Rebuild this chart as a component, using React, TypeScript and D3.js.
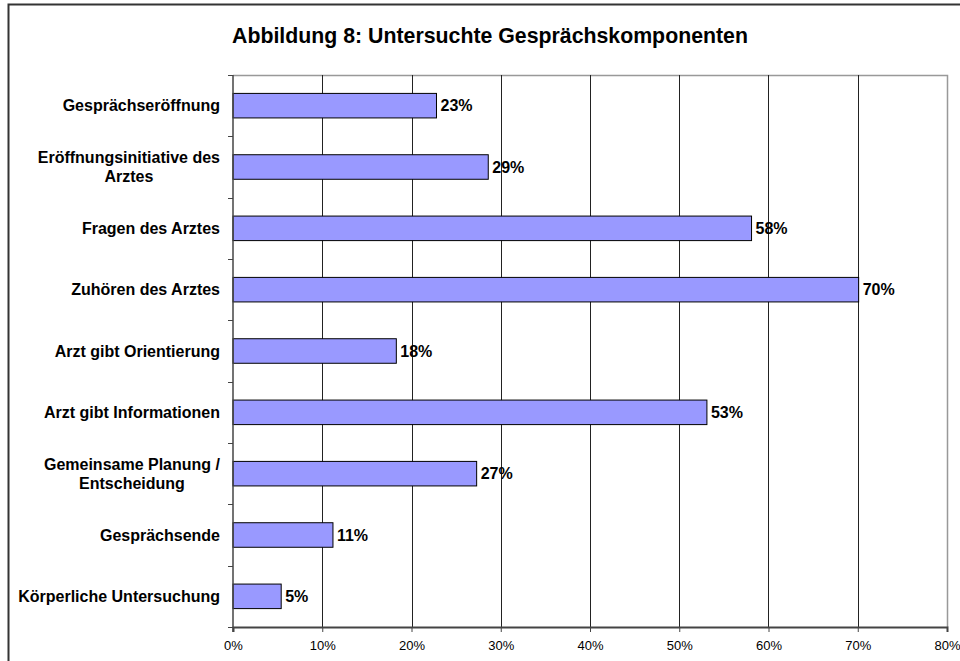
import React, { useRef, useEffect } from 'react';
import * as d3 from 'd3';

// Daten aus der Abbildung
const categories: string[][] = [
    ['Gesprächseröffnung'],
    ['Eröffnungsinitiative des', 'Arztes'],
    ['Fragen des Arztes'],
    ['Zuhören des Arztes'],
    ['Arzt gibt Orientierung'],
    ['Arzt gibt Informationen'],
    ['Gemeinsame Planung /', 'Entscheidung'],
    ['Gesprächsende'],
    ['Körperliche Untersuchung'],
];
const values = [0.228, 0.286, 0.581, 0.701, 0.183, 0.531, 0.273, 0.112, 0.054];
const valueLabels = ['23%', '29%', '58%', '70%', '18%', '53%', '27%', '11%', '5%'];
const xTicks = [0, 0.1, 0.2, 0.3, 0.4, 0.5, 0.6, 0.7, 0.8];
const title = 'Abbildung 8: Untersuchte Gesprächskomponenten';

const W = 960;
const H = 661;
const plot = { left: 233, right: 947, top: 75, bottom: 627 };
const font = 'Arial, "Liberation Sans", sans-serif';

const BarChart = () => {
    const ref = useRef<SVGSVGElement>(null);

    useEffect(() => {
        const svg = d3.select(ref.current);
        svg.selectAll('*').remove();

        const x = d3.scaleLinear().domain([0, 0.8]).range([plot.left, plot.right]);
        const idx = categories.map((_, i) => String(i));
        const y = d3.scaleBand().domain(idx).range([plot.top, plot.bottom]).paddingInner(0.6).paddingOuter(0.3);
        const band = (plot.bottom - plot.top) / categories.length;

        // äußerer Rahmen
        svg.append('rect')
            .attr('x', 8.5).attr('y', 4.5)
            .attr('width', W).attr('height', H + 20)
            .attr('fill', 'white')
            .attr('stroke', '#333').attr('stroke-width', 2);

        // Titel
        svg.append('text')
            .attr('x', 490).attr('y', 43)
            .attr('text-anchor', 'middle')
            .attr('font-family', font).attr('font-size', 21.3).attr('font-weight', 'bold')
            .text(title);

        // Rahmen der Zeichenfläche
        svg.append('path')
            .attr('d', `M${plot.left},${plot.top + 0.5}H${plot.right + 0.5}V${plot.bottom}`)
            .attr('fill', 'none').attr('stroke', '#999').attr('stroke-width', 1.5);

        // Gitterlinien
        svg.append('g')
            .selectAll('line')
            .data(xTicks.slice(1, -1))
            .enter().append('line')
            .attr('x1', d => Math.round(x(d)) + 0.5).attr('x2', d => Math.round(x(d)) + 0.5)
            .attr('y1', plot.top).attr('y2', plot.bottom)
            .attr('stroke', '#222').attr('stroke-width', 1);

        // Balken
        const bars = svg.append('g');
        bars.selectAll('rect')
            .data(values)
            .enter().append('rect')
            .attr('x', x(0))
            .attr('y', (_, i) => y(String(i)) as number)
            .attr('width', d => x(d) - x(0))
            .attr('height', y.bandwidth())
            .attr('fill', '#9999FF')
            .attr('stroke', '#000').attr('stroke-width', 1);

        bars.selectAll('text')
            .data(values)
            .enter().append('text')
            .attr('x', d => x(d) + 4)
            .attr('y', (_, i) => (y(String(i)) as number) + y.bandwidth() / 2)
            .attr('dy', '0.36em')
            .attr('font-family', font).attr('font-size', 16).attr('font-weight', 'bold')
            .text((_, i) => valueLabels[i]);

        // x-Achse
        const xAxis = svg.append('g')
            .attr('transform', `translate(0, ${plot.bottom})`)
            .call(d3.axisBottom(x).tickValues(xTicks).tickFormat(d3.format('.0%')).tickSizeOuter(0).tickSize(5).tickPadding(9));
        xAxis.select('.domain').attr('stroke', '#444').attr('stroke-width', 2);
        xAxis.selectAll('.tick line').attr('stroke', '#444');
        xAxis.selectAll('.tick text')
            .attr('font-family', font).attr('font-size', 13).attr('fill', '#000');

        // y-Achse
        svg.append('line')
            .attr('x1', plot.left).attr('x2', plot.left)
            .attr('y1', plot.top).attr('y2', plot.bottom + 5)
            .attr('stroke', '#444').attr('stroke-width', 1.5);
        svg.append('g')
            .selectAll('line')
            .data(d3.range(categories.length + 1))
            .enter().append('line')
            .attr('x1', plot.left - 5).attr('x2', plot.left)
            .attr('y1', d => Math.round(plot.top + d * band) + 0.5)
            .attr('y2', d => Math.round(plot.top + d * band) + 0.5)
            .attr('stroke', '#444');

        // Kategorienbeschriftung: Block rechtsbündig, Zeilen zentriert
        const labels = svg.append('g')
            .selectAll('g')
            .data(categories)
            .enter().append('g');
        labels.each(function (lines, i) {
            const g = d3.select(this);
            const cy = (y(String(i)) as number) + y.bandwidth() / 2;
            const spans = lines.map((line, j) =>
                g.append('text')
                    .attr('font-family', font).attr('font-size', 16).attr('font-weight', 'bold')
                    .attr('text-anchor', 'middle')
                    .attr('y', cy + (j - (lines.length - 1) / 2) * 19)
                    .attr('dy', '0.36em')
                    .text(line));
            const maxW = d3.max(spans, s => (s.node() as SVGTextElement).getComputedTextLength()) || 0;
            spans.forEach(s => s.attr('x', 220 - maxW / 2));
        });
    }, []);

    return <svg ref={ref} width={W} height={H} style={{ position: 'absolute', left: 0, top: 0, background: 'white' }}></svg>;
};

export default function App() {
    return (
        <div>
            <BarChart />
        </div>
    );
}
